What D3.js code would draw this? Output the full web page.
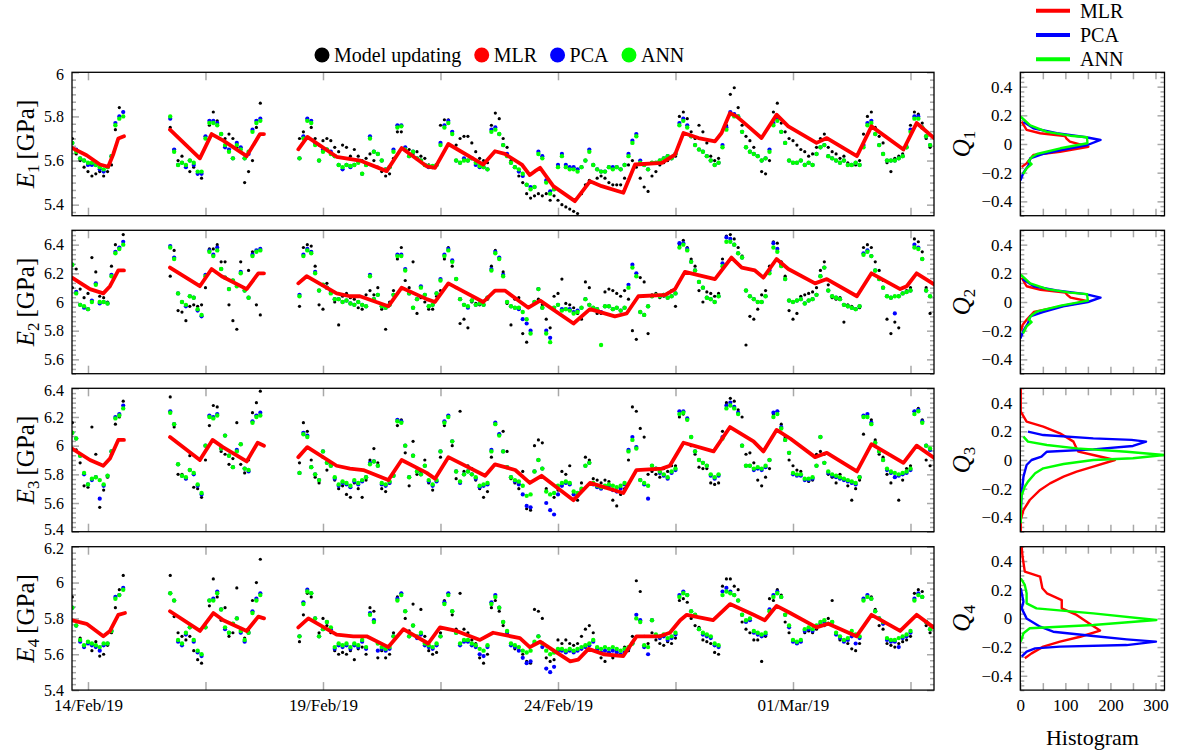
<!DOCTYPE html>
<html>
<head>
<meta charset="utf-8">
<script src="https://d3js.org/d3.v7.min.js"></script>
<style>
  * { margin: 0; padding: 0; }
  body { background: #fff; }
  svg text { font-family: "Liberation Serif", "Times New Roman", serif; fill: #000; }
</style>
</head>
<body>
<div id="chart"></div>
<script>
// ---------------- data ----------------
// time = days since 14/Feb/19 00:00, samples every 2 h in three blocks
const segStart = [-1 / 3, 1.75, 4.5];
const segCount = [14, 24, 162];
const stepDays = 1 / 12;

const xTickDays = [0, 2.5, 5, 7.5, 10, 12.5, 15, 17.5];
const xTickLabels = {0: "14/Feb/19", 5: "19/Feb/19", 10: "24/Feb/19", 15: "01/Mar/19"};

const seriesNames = ["Model updating", "MLR", "PCA", "ANN"];
const histNames = ["MLR", "PCA", "ANN"];

// E1
const obs1 = [
 5.70,5.63,5.60,5.57,5.55,5.53,5.54,5.55,5.53,5.55,5.58,5.74,5.84,5.82,
 5.75,5.65,5.60,5.62,5.58,5.55,5.57,5.54,5.52,5.70,5.76,5.82,5.78,5.72,5.70,5.72,5.70,5.66,5.64,5.50,5.55,5.60,5.75,5.86,
 5.70,5.73,5.79,5.75,5.70,5.67,5.69,5.70,5.69,5.66, 5.64,5.67,5.66,5.62,5.65,5.62,5.60,5.61,5.63,5.60,
 5.57,5.55,5.53,5.54,5.61,5.73,5.73,5.66,5.65,5.63, 5.64,5.62,5.61,5.58,5.575,5.58,5.76,5.785,5.785,5.73,
 5.67,5.70,5.71,5.71,5.68,5.64,5.61,5.60,5.59,5.76, 5.815,5.79,5.70, 5.66,5.60,5.57,5.53,5.50,5.45,5.43,
 5.44,5.45,5.44,5.45,5.42,5.44,5.42,5.40,5.39,5.38, 5.37,5.36,5.45,5.49,5.51,5.50,5.52,5.53,5.52,5.50,
 5.49,5.49,5.49,5.52,5.58,5.60,5.57,5.52,5.48,5.46, 5.53,5.55,5.58,5.59,5.60,5.61,5.62,5.80,5.82,5.79,
 5.73,5.70,5.76,5.73,5.68,5.62,5.60,5.61,5.66,5.76, 5.90,5.93,5.84,5.76,5.71,5.69,5.66,5.62,5.55,5.54,
 5.60,5.82,5.86,5.77,5.73,5.70,5.69,5.67,5.65,5.64, 5.62,5.63,5.66,5.70,5.72,5.66,5.64,5.63,5.61,5.62,
 5.59,5.58,5.58,5.60,5.72,5.80,5.82,5.75,5.71,5.68, 5.59,5.55,5.61,5.62,5.63,5.67,5.76,5.82,5.81,5.77, 5.70,5.66
];
const ann1 = [
 5.68,5.64,5.61,5.60,5.59,5.59,5.58,5.57,5.56,5.57,5.62,5.76,5.79,5.80,
 5.80,5.64,5.58,5.59,5.58,5.60,5.59,5.55,5.55,5.70,5.77,5.77,5.76,5.72,5.67,5.64,5.61,5.67,5.65,5.61,5.64,5.73,5.77,5.78,
 5.61,5.70,5.78,5.77,5.67,5.60,5.64,5.65,5.63,5.62, 5.58,5.57,5.58,5.575,5.58,5.59,5.54,5.58,5.70,5.64,
 5.63,5.60,5.56,5.57,5.64,5.75,5.755,5.65,5.62,5.64, 5.61,5.60,5.58,5.575,5.575,5.58,5.67,5.75,5.77,5.72,
 5.60,5.59,5.60,5.60,5.61,5.59,5.575,5.57,5.56,5.73, 5.74,5.72,5.67, 5.62,5.59,5.57,5.56,5.54,5.49,5.47,
 5.48,5.63,5.61,5.50,5.45,5.47,5.57,5.62,5.57,5.56, 5.56,5.55,5.57,5.60,5.64,5.58,5.56,5.55,5.55,5.57,
 5.56,5.57,5.56,5.58,5.62,5.68,5.71,5.59,5.58,5.56, 5.59,5.59,5.60,5.61,5.62,5.61,5.63,5.76,5.78,5.75,
 5.71,5.67,5.65,5.64,5.62,5.60,5.58,5.59,5.66,5.74, 5.81,5.80,5.80,5.73,5.66,5.64,5.63,5.62,5.60,5.61,
 5.64,5.76,5.78,5.73,5.68,5.60,5.59,5.59,5.60,5.58, 5.59,5.58,5.63,5.66,5.67,5.62,5.61,5.60,5.59,5.60,
 5.58,5.58,5.59,5.58,5.66,5.76,5.77,5.72,5.67,5.63, 5.60,5.60,5.60,5.61,5.62,5.66,5.73,5.79,5.79,5.75, 5.71,5.67
];
const pca1 = [
 5.68,5.65,5.61,5.60,5.58,5.58,5.58,5.56,5.55,5.57,5.62,5.77,5.80,5.82,
 5.79,5.65,5.58,5.59,5.57,5.60,5.58,5.54,5.54,5.71,5.78,5.78,5.77,5.72,5.66,5.65,5.61,5.68,5.66,5.61,5.63,5.74,5.78,5.79,
 5.61,5.71,5.79,5.78,5.68,5.60,5.65,5.65,5.64,5.62, 5.58,5.56,5.58,5.57,5.58,5.60,5.54,5.58,5.71,5.64,
 5.63,5.60,5.56,5.57,5.65,5.76,5.76,5.66,5.62,5.64, 5.61,5.60,5.58,5.57,5.57,5.58,5.68,5.76,5.78,5.73,
 5.60,5.59,5.61,5.60,5.61,5.58,5.57,5.57,5.56,5.74, 5.75,5.72,5.67, 5.63,5.59,5.57,5.55,5.53,5.49,5.48,
 5.48,5.64,5.62,5.51,5.46,5.47,5.58,5.63,5.58,5.57, 5.57,5.56,5.57,5.60,5.65,5.58,5.56,5.55,5.55,5.57,
 5.57,5.57,5.56,5.58,5.63,5.69,5.72,5.60,5.58,5.56, 5.59,5.59,5.60,5.61,5.62,5.61,5.63,5.77,5.79,5.76,
 5.71,5.67,5.65,5.64,5.62,5.60,5.58,5.59,5.67,5.75, 5.82,5.81,5.80,5.73,5.66,5.64,5.63,5.62,5.60,5.61,
 5.65,5.77,5.79,5.73,5.68,5.60,5.59,5.59,5.60,5.58, 5.59,5.58,5.63,5.66,5.67,5.62,5.61,5.60,5.59,5.60,
 5.58,5.58,5.59,5.58,5.67,5.77,5.78,5.72,5.67,5.63, 5.60,5.60,5.60,5.61,5.62,5.66,5.74,5.80,5.80,5.75, 5.71,5.67
];
const mlr1T = [-0.34,-0.03,0.255,0.43,0.54,0.645,0.766, null,
 1.745,2.38,2.63,2.88,3.376,3.66,3.745, null,
 4.475,4.667,5.29,5.787,6.355,6.674,7.206,7.383,7.667,8.411,8.66,8.87,9.23,9.40,9.51,9.62,9.90,10.36,10.68,10.93,
 11.39,11.64,12.21,12.49,12.67,12.99,13.34,13.48,13.66,13.80,14.09,14.33,14.65,14.90,15.50,15.72,16.36,16.67,17.35,17.63,18.0];
const mlr1V = [5.657,5.624,5.582,5.572,5.63,5.70,5.71, null,
 5.74,5.61,5.72,5.69,5.62,5.72,5.72, null,
 5.651,5.707,5.617,5.60,5.552,5.657,5.574,5.567,5.675,5.582,5.642,5.63,5.582,5.534,5.552,5.567,5.484,5.416,5.506,5.484,
 5.454,5.582,5.589,5.627,5.725,5.702,5.687,5.725,5.815,5.80,5.747,5.702,5.808,5.755,5.68,5.702,5.62,5.755,5.65,5.77,5.702];

// E2
const obs2 = [
 6.10,6.23,6.09,6.03,6.06,6.31,6.21,6.04,6.03,6.00,6.25,6.40,6.37,6.47,
 6.18,6.36,5.94,5.93,5.87,5.97,5.98,5.97,5.98,6.10,6.37,6.37,6.40,6.28,6.28,5.98,5.87,5.81,6.28,6.09,6.22,6.35,5.98,5.91,
 5.97,6.38,6.40,6.39,6.25,5.98,5.95,6.13,6.08,6.00, 5.84,6.04,6.06,6.03,6.02,5.96,5.95,6.05,6.08,6.05,
 6.10,5.95,5.81,6.00,6.08,6.30,6.38,6.15,6.10,6.28, 5.92,6.03,6.00,5.95,5.95,6.04,6.08,6.30,6.38,6.25,
 6.10,5.85,5.88,5.82,6.00,5.99,5.98,6.00,6.02,6.25, 6.36,6.30,6.21, 5.99,5.84,6.02,6.03,5.78,5.72,5.80,
 6.00,6.02,5.98,5.88,5.82,6.04,6.06,6.16,5.99,5.98, 5.96,5.92,5.88,6.14,6.10,5.95,5.92,5.92,6.07,6.09,
 6.08,6.06,6.04,6.08,6.02,5.80,5.74,6.17,6.14,5.78, 6.05,6.06,6.03,6.04,6.06,6.08,5.97,6.40,6.43,6.38,
 6.30,6.25,6.08,6.00,6.07,6.06,6.04,6.06,6.30,6.46, 6.47,6.44,6.38,6.32,5.70,5.90,5.88,5.95,6.05,6.08,
 6.25,6.42,6.41,6.28,6.18,5.94,5.88,5.92,6.04,6.05, 6.06,6.07,6.10,6.22,6.28,6.12,6.03,6.02,6.03,5.86,
 5.98,5.97,5.95,5.96,6.38,6.40,6.38,6.28,6.22,6.15, 5.88,5.78,5.86,5.82,6.06,6.08,6.10,6.44,6.42,6.35, 6.10,5.92
];
const ann2 = [
 6.26,6.06,5.98,5.97,5.95,6.00,6.12,6.00,6.00,5.99,6.18,6.34,6.37,6.40,
 6.38,6.30,6.06,6.00,5.98,6.04,6.03,5.95,5.91,6.18,6.35,6.32,6.36,6.23,6.17,6.09,6.15,6.11,6.20,6.08,6.03,6.32,6.35,6.36,
 6.04,6.32,6.36,6.34,6.20,6.08,6.12,6.10,6.06,6.02, 6.02,6.00,6.01,5.99,5.98,6.00,5.98,5.97,6.18,6.02,
 6.05,5.97,5.96,5.98,6.05,6.32,6.32,6.22,6.06,5.96, 6.02,6.10,6.05,5.97,5.98,6.06,6.15,6.32,6.36,6.28,
 6.16,6.02,5.98,5.97,6.01,5.98,5.99,5.98,6.03,6.22, 6.34,6.30,6.18, 6.00,5.97,5.96,5.96,5.93,5.88,5.78,
 6.00,6.09,5.96,5.78,5.72,5.96,5.98,5.94,5.95,5.94, 5.92,5.93,5.96,6.02,5.98,5.96,5.95,5.70,5.97,5.97,
 5.95,5.96,5.94,5.96,6.10,6.24,6.18,5.93,5.91,5.97, 6.04,6.05,6.04,6.05,6.03,6.04,6.06,6.38,6.40,6.36,
 6.28,6.22,6.14,6.10,6.03,6.02,6.00,6.04,6.25,6.42, 6.42,6.40,6.34,6.31,6.08,6.04,6.02,6.00,6.00,6.04,
 6.20,6.38,6.35,6.25,6.16,6.01,6.00,6.01,6.02,5.99, 6.01,6.02,6.05,6.18,6.24,6.08,6.04,6.03,6.02,5.98,
 5.97,5.96,5.95,5.97,6.33,6.35,6.32,6.22,6.16,6.10, 6.04,6.03,6.04,6.04,6.06,6.07,6.08,6.38,6.37,6.30, 6.08,6.04
];
const pca2 = [
 6.26,6.07,5.98,5.96,5.95,6.01,6.13,5.99,6.00,5.99,6.19,6.35,6.38,6.42,
 6.39,6.31,6.06,6.00,5.97,6.04,6.03,5.94,5.90,6.19,6.36,6.33,6.38,6.23,6.17,6.09,6.15,6.12,6.21,6.08,6.03,6.33,6.36,6.37,
 6.05,6.33,6.37,6.35,6.21,6.08,6.12,6.10,6.07,6.02, 6.02,6.00,6.01,5.99,5.98,6.00,5.98,5.97,6.19,6.02,
 6.05,5.97,5.96,5.98,6.05,6.33,6.33,6.23,6.06,5.96, 6.02,6.11,6.05,5.97,5.98,6.06,6.16,6.33,6.37,6.29,
 6.16,6.02,5.98,5.96,6.01,5.98,5.99,5.98,6.03,6.23, 6.35,6.31,6.19, 6.00,5.97,5.96,5.95,5.88,5.85,5.80,
 6.00,6.09,5.96,5.80,5.75,5.96,5.98,5.95,5.95,5.95, 5.93,5.94,5.96,6.02,5.98,5.96,5.95,5.93,5.97,5.97,
 5.95,5.96,5.94,5.96,6.12,6.26,6.20,5.93,5.91,5.97, 6.04,6.05,6.04,6.05,6.03,6.04,6.06,6.41,6.41,6.37,
 6.28,6.22,6.14,6.10,6.03,6.02,6.00,6.04,6.27,6.45, 6.44,6.40,6.34,6.31,6.08,6.04,6.02,6.00,6.00,6.04,
 6.22,6.41,6.37,6.26,6.16,6.01,6.00,6.01,6.02,5.99, 6.01,6.02,6.05,6.18,6.24,6.08,6.04,6.03,6.02,5.98,
 5.97,5.96,5.95,5.97,6.34,6.36,6.32,6.22,6.16,6.10, 6.04,6.03,5.92,6.04,6.06,6.07,6.08,6.40,6.38,6.30, 6.08,6.04
];
const mlr2T = [-0.34,0.043,0.326,0.468,0.645,0.766, null,
 1.745,2.38,2.63,2.844,3.376,3.624,3.745, null,
 4.475,4.652,5.29,5.574,5.787,6.39,6.674,7.206,7.383,7.667,8.41,8.66,8.87,9.37,9.62,10.33,10.68,11.21,11.46,11.71,
 12.28,12.49,12.70,13.34,13.69,13.91,14.19,14.37,14.65,14.90,15.47,15.72,16.36,16.67,17.28,17.42,17.63,18.02];
const mlr2V = [6.17,6.09,6.06,6.11,6.22,6.22, null,
 6.24,6.11,6.23,6.18,6.09,6.20,6.20, null,
 6.13,6.18,6.06,6.04,6.04,5.97,6.10,6.02,6.00,6.13,6.00,6.08,6.08,5.96,6.01,5.85,5.95,5.90,5.92,6.04,
 6.05,6.09,6.21,6.16,6.31,6.24,6.22,6.17,6.30,6.23,6.13,6.16,6.04,6.20,6.09,6.11,6.20,6.12];

// E3
const obs3 = [
 6.16,5.97,5.88,5.72,5.71,6.13,5.94,5.57,5.69,5.78,5.94,6.15,6.20,6.31,
 6.34,6.13,5.80,5.80,5.77,5.93,5.71,5.70,5.64,5.90,6.14,6.28,6.27,5.96,5.94,5.87,5.91,6.16,5.87,5.81,5.90,6.23,6.30,6.38,
 5.88,6.16,6.10,5.90,5.78,5.74,5.92,5.83,5.88,5.76, 5.70,5.72,5.66,5.64,5.74,5.70,5.64,5.76,5.90,5.98,
 5.88,5.70,5.68,5.74,5.80,6.14,6.18,5.95,5.72,6.03, 5.80,5.82,5.90,5.74,5.69,5.75,5.92,6.14,6.21,6.00,
 5.77,6.24,5.82,5.86,5.84,5.76,5.70,5.64,5.68,5.92, 6.16,6.08,6.10, 5.96,5.77,5.74,5.70,5.82,5.56,5.55,
 6.00,6.04,6.02,5.70,5.66,5.64,5.69,5.82,5.80,5.86, 5.66,5.62,5.74,5.92,5.90,5.77,5.76,5.74,5.76,5.75,
 5.62,5.58,5.66,5.70,5.90,6.27,6.24,6.12,6.06,5.80, 5.82,5.80,5.78,5.84,5.82,5.86,5.86,6.20,6.22,6.18,
 6.00,5.94,5.85,5.84,5.84,5.74,5.73,5.74,6.10,6.30, 6.33,6.31,6.25,6.20,5.94,5.95,5.88,5.76,5.72,5.78,
 5.84,6.22,6.24,6.15,6.06,5.90,5.86,5.83,5.82,5.76, 5.75,5.76,5.94,5.96,5.94,5.80,5.78,5.74,5.80,5.76,
 5.72,5.62,5.70,5.76,6.08,6.21,6.18,6.04,5.94,5.92, 5.80,5.74,5.78,5.62,5.76,5.84,5.86,6.24,6.26,6.18, 5.90,5.86
];
const ann3 = [
 6.09,6.05,5.93,5.81,5.73,5.77,5.78,5.76,5.73,5.79,5.96,6.19,6.21,6.26,
 6.23,6.15,5.87,5.79,5.78,5.83,5.81,5.73,5.67,6.00,6.20,6.19,6.21,5.98,6.07,5.93,5.85,5.96,6.01,5.84,5.83,6.16,6.20,6.21,
 5.81,6.08,6.06,5.85,5.80,5.76,5.96,5.88,5.86,5.78, 5.73,5.75,5.74,5.72,5.76,5.74,5.76,5.78,5.87,5.89,
 5.86,5.74,5.73,5.75,5.79,6.17,6.16,6.00,5.78,5.93, 5.82,5.80,5.86,5.76,5.73,5.76,5.96,6.16,6.20,6.03,
 5.82,5.75,5.80,5.82,5.80,5.78,5.72,5.73,5.74,5.96, 6.15,6.07,5.96, 5.85,5.78,5.76,5.75,5.72,5.65,5.66,
 5.82,5.90,5.84,5.68,5.66,5.67,5.72,5.74,5.75,5.74, 5.68,5.67,5.70,5.86,5.88,5.74,5.72,5.71,5.72,5.73,
 5.72,5.71,5.72,5.74,5.96,6.04,5.98,5.76,5.74,5.72, 5.86,5.84,5.82,5.80,5.78,5.82,5.84,6.22,6.23,6.18,
 6.06,5.96,5.90,5.88,5.86,5.80,5.78,5.80,6.05,6.26, 6.28,6.26,6.22,6.00,5.86,5.86,5.84,5.85,5.84,5.86,
 5.90,6.20,6.22,6.12,6.04,5.95,5.81,5.80,5.80,5.77, 5.77,5.78,5.86,6.06,5.88,5.82,5.80,5.79,5.78,5.77,
 5.76,5.75,5.74,5.78,6.20,6.20,6.15,6.02,5.96,5.90, 5.84,5.82,5.81,5.80,5.81,5.82,5.84,6.22,6.24,6.16, 6.00,5.98
];
const pca3 = [
 6.09,6.05,5.93,5.80,5.73,5.76,5.78,5.63,5.72,5.79,5.96,6.20,6.22,6.28,
 6.24,6.15,5.87,5.79,5.77,5.83,5.80,5.72,5.66,6.00,6.21,6.20,6.22,5.98,6.07,5.93,5.85,5.97,6.01,5.84,5.82,6.17,6.21,6.23,
 5.81,6.09,6.07,5.85,5.80,5.76,5.96,5.88,5.86,5.77, 5.72,5.74,5.73,5.71,5.75,5.73,5.75,5.78,5.88,5.89,
 5.86,5.73,5.72,5.74,5.79,6.18,6.17,6.00,5.78,5.93, 5.82,5.80,5.86,5.75,5.72,5.75,5.96,6.17,6.21,6.03,
 5.82,5.74,5.80,5.82,5.80,5.77,5.71,5.72,5.73,5.97, 6.16,6.08,5.96, 5.85,5.78,5.75,5.73,5.66,5.58,5.57,
 5.82,5.90,5.84,5.60,5.55,5.52,5.66,5.72,5.74,5.73, 5.66,5.65,5.69,5.86,5.88,5.73,5.71,5.70,5.71,5.72,
 5.69,5.68,5.70,5.73,5.97,6.06,5.99,5.76,5.73,5.63, 5.86,5.84,5.81,5.79,5.77,5.81,5.83,6.24,6.24,6.19,
 6.06,5.96,5.90,5.88,5.86,5.79,5.77,5.79,6.06,6.28, 6.30,6.27,6.23,6.00,5.86,5.86,5.83,5.84,5.83,5.85,
 5.90,6.23,6.24,6.13,6.04,5.95,5.80,5.79,5.79,5.76, 5.76,5.77,5.86,6.06,5.88,5.81,5.79,5.78,5.77,5.76,
 5.75,5.74,5.73,5.78,6.21,6.22,6.16,6.02,5.96,5.90, 5.83,5.81,5.78,5.79,5.80,5.81,5.83,6.24,6.25,6.17, 6.00,5.97
];
const mlr3T = [-0.34,0.043,0.326,0.468,0.645,0.766, null,
 1.745,2.38,2.65,2.87,3.376,3.61,3.745, null,
 4.475,4.667,5.29,5.574,5.857,6.39,6.674,7.206,7.383,7.667,8.45,8.66,9.09,9.40,9.65,10.33,10.68,11.39,11.67,12.21,
 12.38,12.67,13.31,13.66,14.16,14.37,14.65,14.94,15.47,15.72,16.36,16.67,17.35,17.63,18.02];
const mlr3V = [5.98,5.90,5.86,5.91,6.04,6.04, null,
 6.06,5.90,6.04,5.99,5.89,6.02,6.00, null,
 5.92,5.99,5.86,5.84,5.83,5.76,5.90,5.81,5.77,5.92,5.79,5.87,5.83,5.74,5.79,5.62,5.74,5.67,5.83,5.84,
 5.86,6.02,5.96,6.13,6.03,5.96,6.11,6.05,5.92,5.95,5.82,6.01,5.88,6.00,5.91];

// E4
const obs4 = [
 5.92,5.76,5.69,5.64,5.67,5.62,5.67,5.59,5.60,5.65,5.72,5.86,5.96,6.04,
 6.04,5.81,5.72,5.70,5.68,5.70,5.62,5.57,5.55,5.77,5.87,6.02,5.92,5.79,5.86,5.70,5.72,5.97,5.72,5.69,5.73,5.90,6.00,6.13,
 5.67,5.82,5.94,5.92,5.78,5.72,5.80,5.76,5.72,5.62, 5.60,5.61,5.60,5.62,5.57,5.63,5.64,5.60,5.86,5.84,
 5.58,5.62,5.58,5.60,5.72,5.92,5.94,5.80,5.73,5.88, 5.70,5.85,5.70,5.62,5.60,5.61,5.72,5.90,5.94,5.82,
 5.74,5.94,5.74,5.72,5.68,5.66,5.58,5.55,5.60,5.86, 5.90,5.84, 5.76,5.72,5.66,5.63,5.64,5.60,5.56,5.55,
 5.85,5.84,5.80,5.58,5.56,5.57,5.68,5.66,5.68,5.66, 5.65,5.66,5.70,5.74,5.76,5.72,5.62,5.58,5.56,5.60,
 5.58,5.62,5.60,5.64,5.62,5.70,6.01,5.95,5.70,5.66, 5.72,5.68,5.66,5.65,5.67,5.66,5.69,5.90,5.91,5.89,
 5.80,5.76,5.75,5.68,5.67,5.66,5.61,5.60,5.98,6.02, 6.02,5.98,5.96,5.78,5.74,5.72,5.68,5.68,5.56,5.70,
 5.91,5.90,5.96,5.93,5.78,5.72,5.68,5.66,5.67,5.72, 5.73,5.72,5.74,5.76,5.76,5.80,5.90,5.72,5.68,5.68,
 5.66,5.63,5.62,5.66,5.91,5.93,5.92,5.85,5.76,5.74, 5.66,5.65,5.64,5.66,5.67,5.68,5.70,5.94,5.96,5.95, 5.76,5.72
];
const ann4 = [
 5.86,5.76,5.68,5.65,5.67,5.66,5.65,5.64,5.66,5.66,5.73,5.91,5.93,5.96,
 5.94,5.90,5.68,5.66,5.72,5.75,5.68,5.62,5.60,5.75,5.90,5.90,5.94,5.85,5.75,5.72,5.77,5.80,5.73,5.68,5.72,5.83,5.90,5.93,
 5.70,5.88,5.95,5.94,5.80,5.70,5.74,5.78,5.75,5.64, 5.66,5.65,5.66,5.64,5.66,5.65,5.68,5.64,5.82,5.78,
 5.66,5.64,5.63,5.64,5.70,5.90,5.93,5.84,5.70,5.76, 5.70,5.72,5.66,5.65,5.64,5.66,5.70,5.88,5.93,5.84,
 5.72,5.66,5.68,5.68,5.66,5.65,5.63,5.62,5.65,5.88, 5.92,5.86, 5.78,5.73,5.66,5.65,5.64,5.62,5.61,5.62,
 5.67,5.70,5.66,5.62,5.60,5.61,5.63,5.63,5.62,5.63, 5.62,5.63,5.64,5.65,5.66,5.68,5.64,5.63,5.64,5.63,
 5.64,5.63,5.62,5.63,5.64,5.66,5.80,5.78,5.65,5.64, 5.79,5.71,5.70,5.71,5.69,5.70,5.72,5.92,5.94,5.93,
 5.84,5.82,5.74,5.72,5.71,5.70,5.66,5.65,5.93,5.95, 5.94,5.93,5.90,5.82,5.79,5.80,5.73,5.72,5.71,5.72,
 5.84,5.92,5.94,5.92,5.82,5.76,5.68,5.67,5.68,5.74, 5.75,5.74,5.76,5.78,5.79,5.77,5.78,5.72,5.70,5.68,
 5.69,5.73,5.71,5.70,5.90,5.92,5.91,5.84,5.80,5.78, 5.69,5.68,5.68,5.69,5.70,5.71,5.73,5.90,5.93,5.92, 5.78,5.74
];
const pca4 = [
 5.86,5.76,5.67,5.64,5.66,5.65,5.64,5.62,5.65,5.66,5.73,5.92,5.93,5.97,
 5.94,5.90,5.67,5.65,5.71,5.75,5.67,5.61,5.59,5.75,5.90,5.91,5.95,5.85,5.74,5.72,5.77,5.80,5.72,5.67,5.72,5.84,5.91,5.94,
 5.70,5.89,5.96,5.94,5.80,5.70,5.74,5.78,5.74,5.63, 5.65,5.64,5.65,5.63,5.65,5.64,5.67,5.63,5.83,5.79,
 5.62,5.63,5.62,5.63,5.70,5.91,5.94,5.84,5.70,5.76, 5.69,5.71,5.65,5.64,5.63,5.65,5.70,5.89,5.94,5.84,
 5.72,5.65,5.67,5.67,5.65,5.64,5.60,5.59,5.64,5.89, 5.93,5.86, 5.78,5.72,5.65,5.64,5.62,5.58,5.55,5.56,
 5.66,5.70,5.64,5.52,5.50,5.53,5.62,5.62,5.61,5.62, 5.61,5.62,5.63,5.64,5.65,5.67,5.63,5.61,5.62,5.61,
 5.62,5.61,5.60,5.61,5.63,5.66,5.82,5.79,5.64,5.60, 5.79,5.70,5.69,5.70,5.68,5.69,5.71,5.93,5.95,5.93,
 5.84,5.82,5.74,5.71,5.70,5.69,5.65,5.64,5.95,5.97, 5.95,5.93,5.90,5.82,5.78,5.79,5.72,5.71,5.70,5.71,
 5.85,5.93,5.95,5.92,5.82,5.75,5.67,5.66,5.67,5.73, 5.74,5.73,5.75,5.77,5.78,5.77,5.78,5.71,5.69,5.67,
 5.68,5.70,5.66,5.69,5.91,5.93,5.91,5.84,5.80,5.77, 5.68,5.67,5.67,5.64,5.69,5.70,5.72,5.91,5.94,5.92, 5.78,5.74
];
const mlr4T = [-0.35,-0.03,0.326,0.468,0.645,0.787, null,
 1.745,2.383,2.667,2.88,3.376,3.624,3.745, null,
 4.475,4.688,5.29,5.645,5.929,6.39,6.71,7.24,7.49,7.84,8.34,8.62,9.19,9.40,9.62,10.26,10.43,10.65,10.97,11.39,
 11.67,12.17,12.38,12.60,12.74,13.30,13.66,14.16,14.40,14.65,14.94,15.50,15.75,16.35,16.67,17.28,17.63,17.99];
const mlr4V = [5.79,5.77,5.70,5.73,5.82,5.83, null,
 5.84,5.73,5.83,5.79,5.73,5.81,5.80, null,
 5.75,5.80,5.71,5.70,5.70,5.64,5.74,5.66,5.75,5.73,5.68,5.72,5.69,5.64,5.67,5.56,5.57,5.63,5.60,5.59,
 5.70,5.70,5.72,5.79,5.82,5.79,5.88,5.82,5.79,5.87,5.83,5.75,5.77,5.70,5.82,5.73,5.82,5.75];

// histograms of Q (count, level)
const h1MlrN = [3,14,44,99,102,110,151,88,29,14,3];
const h1MlrQ = [0.156,0.098,0.075,0.056,0.04,0.016,-0.019,-0.054,-0.077,-0.135,-0.16];
const h1PcaN = [7,29,81,146,178,149,94,49,22,18,7,0];
const h1PcaQ = [0.156,0.11,0.075,0.047,0.028,-0.007,-0.04,-0.07,-0.10,-0.15,-0.2,-0.255];
const h1AnnN = [1,22,59,111,148,149,89,37,26,18,25,14,6];
const h1AnnQ = [0.19,0.13,0.085,0.058,0.047,0.005,-0.03,-0.07,-0.09,-0.12,-0.14,-0.17,-0.21];

const h2MlrN = [3,14,45,100,104,112,150,90,30,15,5,2];
const h2MlrQ = [0.17,0.11,0.085,0.065,0.05,0.03,0.005,-0.03,-0.07,-0.12,-0.16,-0.20];
const h2PcaN = [5,30,80,145,178,150,95,50,22,17,7,0];
const h2PcaQ = [0.16,0.11,0.08,0.055,0.03,0.0,-0.03,-0.07,-0.10,-0.15,-0.2,-0.255];
const h2AnnN = [1,22,60,110,148,150,90,38,26,18,25,14,6];
const h2AnnQ = [0.19,0.13,0.09,0.065,0.055,0.01,-0.025,-0.065,-0.09,-0.12,-0.14,-0.17,-0.22];

const h3MlrN = [1,1,14,51,88,118,125,129,162,210,162,125,96,66,44,21,7,1,1];
const h3MlrQ = [0.50,0.337,0.267,0.233,0.186,0.128,0.081,0.058,0.035,0.0,-0.046,-0.081,-0.116,-0.163,-0.209,-0.279,-0.349,-0.418,-0.5];
const h3PcaN = [17,51,162,247,279,250,162,59,47,25,14,7,3,1];
const h3PcaQ = [0.198,0.174,0.151,0.14,0.128,0.098,0.074,0.058,0.023,0.0,-0.035,-0.116,-0.232,-0.372];
const h3AnnN = [7,17,59,125,236,319,250,162,96,51,33,17,10,3,1,1];
const h3AnnQ = [0.163,0.128,0.105,0.081,0.058,0.035,0.012,0.0,-0.028,-0.058,-0.093,-0.151,-0.186,-0.244,-0.337,-0.441];

const h4MlrN = [3,5,10,44,49,59,92,92,125,158,177,133,88,51,25,10];
const h4MlrQ = [0.50,0.43,0.326,0.291,0.21,0.175,0.128,0.07,0.024,-0.046,-0.085,-0.128,-0.162,-0.197,-0.244,-0.278];
const h4PcaN = [1,7,3,14,44,73,162,236,301,236,88,33,14,3];
const h4PcaQ = [0.21,0.117,0.07,0.0,-0.058,-0.093,-0.123,-0.146,-0.162,-0.186,-0.197,-0.209,-0.232,-0.267];
const h4AnnN = [1,10,14,14,36,162,302,162,21,7,1];
const h4AnnQ = [0.28,0.233,0.175,0.105,0.07,0.035,-0.011,-0.046,-0.069,-0.104,-0.162];

const yDomains = [[5.35, 6.0], [5.5, 6.5], [5.4, 6.4], [5.4, 6.2]];
const yMajor = [[5.4, 5.6, 5.8, 6.0], [5.6, 5.8, 6.0, 6.2, 6.4], [5.4, 5.6, 5.8, 6.0, 6.2, 6.4], [5.4, 5.6, 5.8, 6.0, 6.2]];

// ---------------- drawing ----------------
const W = 1177, H = 753;
const colors = {obs: "#000000", mlr: "#ff0000", pca: "#0000ff", ann: "#00ff00"};
const tickGray = "#a8a8a8";
const X0 = 72, X1 = 934, HX0 = 1020.3, HX1 = 1164.5;
const tops = [72.3, 230.3, 388.3, 546.7], PH = 143.4;

const panels = [
  {obs: obs1, pca: pca1, ann: ann1, mT: mlr1T, mV: mlr1V, h: [[h1MlrN, h1MlrQ], [h1PcaN, h1PcaQ], [h1AnnN, h1AnnQ]]},
  {obs: obs2, pca: pca2, ann: ann2, mT: mlr2T, mV: mlr2V, h: [[h2MlrN, h2MlrQ], [h2PcaN, h2PcaQ], [h2AnnN, h2AnnQ]]},
  {obs: obs3, pca: pca3, ann: ann3, mT: mlr3T, mV: mlr3V, h: [[h3MlrN, h3MlrQ], [h3PcaN, h3PcaQ], [h3AnnN, h3AnnQ]]},
  {obs: obs4, pca: pca4, ann: ann4, mT: mlr4T, mV: mlr4V, h: [[h4MlrN, h4MlrQ], [h4PcaN, h4PcaQ], [h4AnnN, h4AnnQ]]}
];

// sample times
const sampleT = [];
segStart.forEach((s, j) => {
  for (let i = 0; i < segCount[j]; i++) sampleT.push(s + i * stepDays);
});

const svg = d3.select("#chart").append("svg")
  .attr("width", W).attr("height", H);

const x = d3.scaleLinear().domain([-0.34, 18]).range([X0, X1]);
const hx = d3.scaleLinear().domain([0, 320]).range([HX0, HX1]);

function minorTicks(dom, major, n) {
  const s = major / n, out = [];
  for (let k = Math.ceil(dom[0] / s - 1e-6); k * s <= dom[1] + 1e-9; k++) {
    if (Math.abs(k % n) !== 0) out.push(k * s);
  }
  return out;
}
function styleAxis(g, fs) {
  g.select(".domain").remove();
  g.selectAll(".tick line").attr("stroke", tickGray).attr("stroke-width", 1.5);
  g.attr("font-family", null).attr("font-size", null);
  g.selectAll("text").style("font-size", fs + "px");
}
const numFmt = d => (Math.abs(d) < 1e-9 ? "0" : d3.format("~f")(+d.toFixed(1)));
const histFmt = d => (Math.abs(d) < 1e-9 ? "0" : d3.format(".1f")(d));

panels.forEach((p, i) => {
  const top = tops[i], bot = top + PH;
  const y = d3.scaleLinear().domain(yDomains[i]).range([bot, top]);
  const hy = d3.scaleLinear().domain([-0.5, 0.5]).range([bot, top]);
  const last = i === panels.length - 1;

  // clip
  svg.append("clipPath").attr("id", "clip" + i)
    .append("rect").attr("x", X0).attr("y", top).attr("width", X1 - X0).attr("height", PH);
  svg.append("clipPath").attr("id", "hclip" + i)
    .append("rect").attr("x", HX0).attr("y", top).attr("width", HX1 - HX0).attr("height", PH);

  // --- time series panel ticks
  const minors = minorTicks(yDomains[i], 0.2, 6);
  styleAxis(svg.append("g").attr("transform", `translate(${X0},0)`)
    .call(d3.axisLeft(y).tickValues(minors).tickSize(-4).tickFormat("")), 16);
  styleAxis(svg.append("g").attr("transform", `translate(${X1},0)`)
    .call(d3.axisRight(y).tickValues(minors).tickSize(-4).tickFormat("")), 16);
  const ya = svg.append("g").attr("transform", `translate(${X0},0)`)
    .call(d3.axisLeft(y).tickValues(yMajor[i]).tickSize(-7).tickPadding(8).tickFormat(numFmt));
  styleAxis(ya, 16);
  // keep labels at the panel edges from touching the neighbouring panel's labels
  ya.selectAll(".tick text").attr("y", d => {
    const py = y(d);
    if (py - top < 3) return 2;
    if (bot - py < 3 && !last) return -2.5;
    return 0;
  });
  styleAxis(svg.append("g").attr("transform", `translate(${X1},0)`)
    .call(d3.axisRight(y).tickValues(yMajor[i]).tickSize(-7).tickFormat("")), 16);
  styleAxis(svg.append("g").attr("transform", `translate(0,${top})`)
    .call(d3.axisTop(x).tickValues(xTickDays).tickSize(-8).tickFormat("")), 17);
  styleAxis(svg.append("g").attr("transform", `translate(0,${bot})`)
    .call(d3.axisBottom(x).tickValues(xTickDays).tickSize(-8).tickPadding(9)
      .tickFormat(d => (last && xTickLabels[d]) ? xTickLabels[d] : "")), 17);

  // --- scatter + MLR
  const gd = svg.append("g").attr("clip-path", `url(#clip${i})`);
  const n = Math.min(sampleT.length, p.obs.length, p.pca.length, p.ann.length);
  const idx = d3.range(n);
  gd.append("g").selectAll("circle").data(idx).join("circle")
    .attr("cx", k => x(sampleT[k])).attr("cy", k => y(p.obs[k])).attr("r", 1.6)
    .attr("fill", colors.obs);
  gd.append("g").selectAll("circle").data(idx).join("circle")
    .attr("cx", k => x(sampleT[k])).attr("cy", k => y(p.pca[k])).attr("r", 2.1)
    .attr("fill", colors.pca);
  gd.append("g").selectAll("circle").data(idx).join("circle")
    .attr("cx", k => x(sampleT[k])).attr("cy", k => y(p.ann[k])).attr("r", 2.2)
    .attr("fill", colors.ann);
  const mlrLine = d3.line()
    .defined(k => p.mT[k] !== null && p.mV[k] !== null)
    .x(k => x(p.mT[k])).y(k => y(p.mV[k]));
  gd.append("path").datum(d3.range(p.mT.length))
    .attr("d", mlrLine).attr("fill", "none").attr("stroke", colors.mlr)
    .attr("stroke-width", 3.8).attr("stroke-linejoin", "round").attr("stroke-linecap", "round");

  svg.append("rect").attr("x", X0).attr("y", top).attr("width", X1 - X0).attr("height", PH)
    .attr("fill", "none").attr("stroke", "#000").attr("stroke-width", 1.3);

  // y label
  const lab = svg.append("text")
    .attr("transform", `translate(34,${(top + bot) / 2}) rotate(-90)`)
    .attr("text-anchor", "middle").style("font-size", "25px");
  lab.append("tspan").style("font-style", "italic").text("E");
  lab.append("tspan").attr("dy", 5).style("font-size", "17px").text(i + 1);
  lab.append("tspan").attr("dy", -5).text("\u2009[GPa]");

  // --- histogram panel
  const hMinor = minorTicks([-0.5, 0.5], 0.2, 6);
  const hMajor = [-0.4, -0.2, 0, 0.2, 0.4];
  styleAxis(svg.append("g").attr("transform", `translate(${HX0},0)`)
    .call(d3.axisLeft(hy).tickValues(hMinor).tickSize(-4).tickFormat("")), 17);
  styleAxis(svg.append("g").attr("transform", `translate(${HX1},0)`)
    .call(d3.axisRight(hy).tickValues(hMinor).tickSize(-4).tickFormat("")), 17);
  styleAxis(svg.append("g").attr("transform", `translate(${HX0},0)`)
    .call(d3.axisLeft(hy).tickValues(hMajor).tickSize(-7).tickPadding(8).tickFormat(histFmt)), 17);
  styleAxis(svg.append("g").attr("transform", `translate(${HX1},0)`)
    .call(d3.axisRight(hy).tickValues(hMajor).tickSize(-7).tickFormat("")), 17);
  const hTicks = [0, 50, 100, 150, 200, 250, 300];
  styleAxis(svg.append("g").attr("transform", `translate(0,${top})`)
    .call(d3.axisTop(hx).tickValues(hTicks).tickSize(-7).tickFormat("")), 17);
  styleAxis(svg.append("g").attr("transform", `translate(0,${bot})`)
    .call(d3.axisBottom(hx).tickValues(hTicks).tickSize(-7).tickPadding(9)
      .tickFormat(d => (last && d % 100 === 0) ? d : "")), 17);

  const hg = svg.append("g").attr("clip-path", `url(#hclip${i})`);
  const hCols = [colors.mlr, colors.pca, colors.ann];
  p.h.forEach((s, j) => {
    const [cnt, q] = s;
    hg.append("path").datum(d3.range(cnt.length))
      .attr("d", d3.line().x(k => hx(cnt[k])).y(k => hy(q[k])))
      .attr("fill", "none").attr("stroke", hCols[j]).attr("stroke-width", 2.4)
      .attr("stroke-linejoin", "round");
  });
  svg.append("rect").attr("x", HX0).attr("y", top).attr("width", HX1 - HX0).attr("height", PH)
    .attr("fill", "none").attr("stroke", "#000").attr("stroke-width", 1.3);

  const ql = svg.append("text")
    .attr("transform", `translate(970,${(top + bot) / 2}) rotate(-90)`)
    .attr("text-anchor", "middle").style("font-size", "25px");
  ql.append("tspan").style("font-style", "italic").text("Q");
  ql.append("tspan").attr("dy", 5).style("font-size", "17px").text(i + 1);
});

// histogram x label
svg.append("text").attr("x", (HX0 + HX1) / 2).attr("y", 745)
  .attr("text-anchor", "middle").style("font-size", "22px").text("Histogram");

// top legend (markers)
const legCols = [colors.obs, colors.mlr, colors.pca, colors.ann];
let cursor = 314.5;
seriesNames.forEach((name, j) => {
  svg.append("circle").attr("cx", cursor + 7.5).attr("cy", 55).attr("r", 7.5).attr("fill", legCols[j]);
  const t = svg.append("text").attr("x", cursor + 19.5).attr("y", 61.5)
    .style("font-size", "20px").text(name);
  cursor = cursor + 19.5 + t.node().getComputedTextLength() + 13;
});

// right legend (lines)
const hLegCols = [colors.mlr, colors.pca, colors.ann];
histNames.forEach((name, j) => {
  const yy = 10.7 + j * 24.3;
  svg.append("line").attr("x1", 1036).attr("x2", 1070).attr("y1", yy).attr("y2", yy)
    .attr("stroke", hLegCols[j]).attr("stroke-width", 4);
  svg.append("text").attr("x", 1080).attr("y", yy + 7).style("font-size", "20px").text(name);
});
</script>
</body>
</html>
